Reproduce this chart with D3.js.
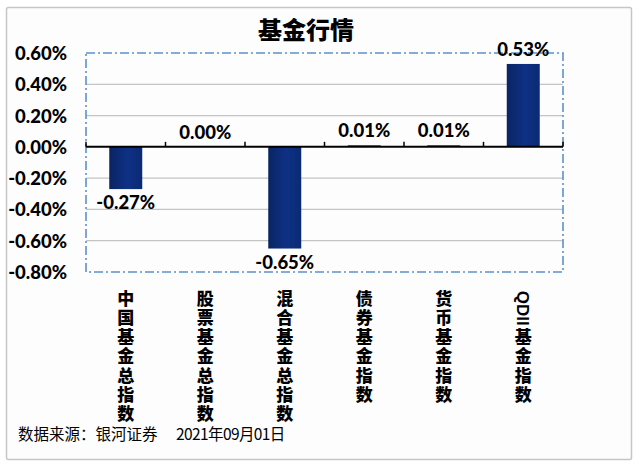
<!DOCTYPE html>
<html><head><meta charset="utf-8">
<script src="https://cdn.jsdelivr.net/npm/d3@7/dist/d3.min.js"></script>
<style>
html,body{margin:0;padding:0;background:#fff;}
svg{display:block;}
</style>
</head><body>
<script>
const title = "基金行情";
const categories = ["中国基金总指数","股票基金总指数","混合基金总指数","债券基金指数","货币基金指数","QDII基金指数"];
const values = [-0.27, 0.00, -0.65, 0.01, 0.01, 0.53];
const yTicks = [0.6, 0.4, 0.2, 0.0, -0.2, -0.4, -0.6, -0.8];
const source = "数据来源：银河证券";
const date = "2021年09月01日";

const W = 640, H = 469;
const svg = d3.select("body").append("svg").attr("width", W).attr("height", H);
const defs = svg.append("defs");
const grad = defs.append("linearGradient").attr("id","barGrad").attr("x1","0").attr("x2","1").attr("y1","0").attr("y2","0");
grad.append("stop").attr("offset","0%").attr("stop-color","#0a2463");
grad.append("stop").attr("offset","55%").attr("stop-color","#0f3185");
grad.append("stop").attr("offset","100%").attr("stop-color","#0b2a73");

svg.append("rect").attr("width",W).attr("height",H).attr("fill","#ffffff");
svg.append("rect").attr("x",6.5).attr("y",7.5).attr("width",625).attr("height",452)
  .attr("fill","#fdfdfe").attr("stroke","#c6c6c6").attr("stroke-width",1.5).attr("rx",2);

const plot = {left:86, right:563, top:53, bottom:272};
const y = d3.scaleLinear().domain([-0.8, 0.6]).range([plot.bottom, plot.top]);
const x = d3.scaleBand().domain(categories).range([plot.left, plot.right])
  .paddingInner(0.585).paddingOuter(0.2925);

const cjk = "'Noto Sans CJK SC','Noto Sans',sans-serif";
const cjkTight = "'Liberation Sans','Noto Sans CJK SC',sans-serif";
const num = "Lato,'Open Sans',sans-serif";

// title
svg.append("text").attr("x",306).attr("y",39).attr("text-anchor","middle")
  .attr("font-family",cjk).attr("font-weight",900).attr("font-size",24).attr("fill","#000").text(title);

// gridlines
svg.append("g").selectAll("line").data(yTicks.filter(v => v !== 0 && v !== 0.6 && v !== -0.8)).join("line")
  .attr("x1",plot.left).attr("x2",plot.right)
  .attr("y1",d=>y(d)).attr("y2",d=>y(d))
  .attr("stroke","#c4c4c4").attr("stroke-width",1.2);

// dashed plot border
svg.append("rect").attr("x",plot.left).attr("y",plot.top)
  .attr("width",plot.right-plot.left).attr("height",plot.bottom-plot.top)
  .attr("fill","none").attr("stroke","#5b93c9").attr("stroke-width",1.6)
  .attr("stroke-dasharray","9,3,2,3");

// y axis labels
const yAxis = d3.axisLeft(y).tickValues(yTicks).tickSize(0).tickPadding(0)
  .tickFormat(d => d.toFixed(2) + "%");
const ga = svg.append("g").attr("transform","translate(67,0)").call(yAxis);
ga.select(".domain").remove();
ga.selectAll("text").attr("font-family",num).attr("font-weight",900).attr("font-size",18.5)
  .attr("fill","#000").attr("dy","0.35em");

// bars
svg.append("g").selectAll("rect").data(values).join("rect")
  .attr("x",(d,i)=>x(categories[i]))
  .attr("width",x.bandwidth())
  .attr("y",d=>y(Math.max(0,d)))
  .attr("height",d=>Math.abs(y(d)-y(0)))
  .attr("fill","url(#barGrad)");

// zero axis
const y0 = y(0);
svg.append("line").attr("x1",plot.left).attr("x2",plot.right).attr("y1",y0).attr("y2",y0)
  .attr("stroke","#000").attr("stroke-width",2);
const bounds = [plot.left].concat(categories.map(c => x(c) - x.step()*x.paddingInner()/2 + x.step())).slice(0,7);
svg.append("g").selectAll("line").data(bounds).join("line")
  .attr("x1",d=>d).attr("x2",d=>d).attr("y1",y0-5).attr("y2",y0)
  .attr("stroke","#000").attr("stroke-width",1.5);

// data labels
svg.append("g").selectAll("text").data(values).join("text")
  .attr("x",(d,i)=>x(categories[i])+x.bandwidth()/2)
  .attr("y",d=> d < 0 ? y(d)+20 : y(d)-8)
  .attr("text-anchor","middle")
  .attr("font-family",num).attr("font-weight",900).attr("font-size",18.5).attr("fill","#000")
  .text(d=>d.toFixed(2)+"%");

// vertical category labels, stacked character by character
const lab = svg.append("g");
categories.forEach(c => {
  const cx = x(c) + x.bandwidth()/2;
  const tokens = c.match(/[A-Za-z0-9]+|./g);
  let yy = 289;
  const step = 19.2;
  tokens.forEach(t => {
    if (/^[A-Za-z0-9]+$/.test(t)) {
      const tx = lab.append("text").attr("font-family","'Liberation Sans',sans-serif").attr("font-weight",700)
        .attr("font-size",17).attr("fill","#000").text(t);
      const len = tx.node().getComputedTextLength();
      const adv = Math.ceil(len / step) * step;
      tx.attr("transform",`translate(${cx-6},${yy + (adv-len)/2}) rotate(90)`).attr("x",0).attr("y",0);
      yy += adv;
    } else {
      lab.append("text").attr("x",cx).attr("y",yy + step/2).attr("dy","0.36em")
        .attr("text-anchor","middle").attr("font-family",cjkTight).attr("font-weight",900)
        .attr("font-size",17).attr("fill","#000").text(t);
      yy += step;
    }
  });
});

// footer
svg.append("text").attr("x",18).attr("y",440).attr("font-family",cjk).attr("font-size",15.5)
  .attr("fill","#000").text(source);
svg.append("text").attr("x",176).attr("y",440).attr("font-family",cjk).attr("font-size",15.5)
  .attr("fill","#000").attr("letter-spacing","-0.6").text(date);
</script>
</body></html>
